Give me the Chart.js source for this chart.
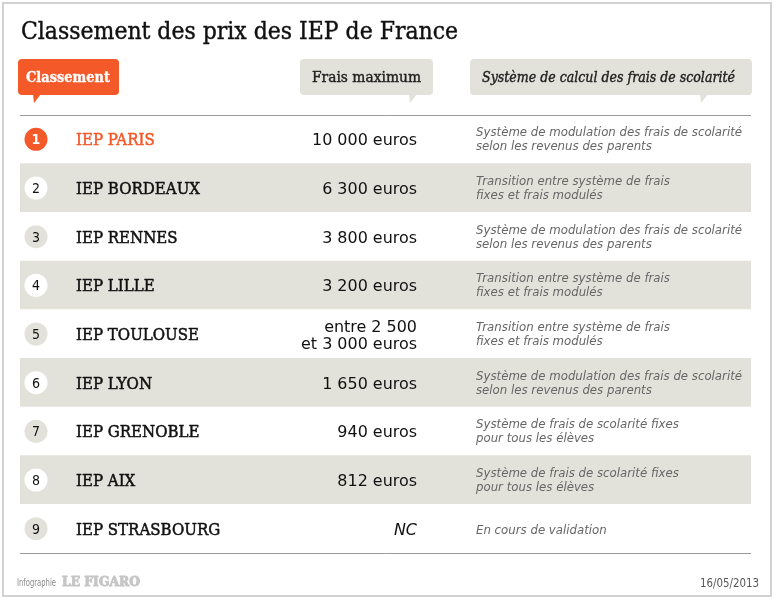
<!DOCTYPE html>
<html><head><meta charset="utf-8">
<script src="https://cdn.jsdelivr.net/npm/chart.js@4"></script>
<style>html,body{margin:0;padding:0;background:#fff}#wrap{width:777px;height:600px}</style>
</head><body><div id="wrap"><canvas id="c" width="777" height="600"></canvas></div>
<script>
const titre = 'Classement des prix des IEP de France';
const colonnes = ['Classement', 'Frais maximum', 'Système de calcul des frais de scolarité'];
const rangs = ['1', '2', '3', '4', '5', '6', '7', '8', '9'];
const etablissements = ['IEP PARIS', 'IEP BORDEAUX', 'IEP RENNES', 'IEP LILLE', 'IEP TOULOUSE', 'IEP LYON', 'IEP GRENOBLE', 'IEP AIX', 'IEP STRASBOURG'];
const fraisMaximum = [10000, 6300, 3800, 3200, 3000, 1650, 940, 812, null];
const fraisLabels = [['10 000 euros'], ['6 300 euros'], ['3 800 euros'], ['3 200 euros'], ['entre 2 500', 'et 3 000 euros'], ['1 650 euros'], ['940 euros'], ['812 euros'], ['NC']];
const systemes = [
  ['Système de modulation des frais de scolarité', 'selon les revenus des parents'],
  ['Transition entre système de frais', 'fixes et frais modulés'],
  ['Système de modulation des frais de scolarité', 'selon les revenus des parents'],
  ['Transition entre système de frais', 'fixes et frais modulés'],
  ['Transition entre système de frais', 'fixes et frais modulés'],
  ['Système de modulation des frais de scolarité', 'selon les revenus des parents'],
  ['Système de frais de scolarité fixes', 'pour tous les élèves'],
  ['Système de frais de scolarité fixes', 'pour tous les élèves'],
  ['En cours de validation']
];
const source = 'Infographie';
const marque = 'LE FIGARO';
const dateTexte = '16/05/2013';

const ORANGE = '#F4592A', GRIS = '#E3E2DA';
const SLAB = '"DejaVu Serif Condensed", "DejaVu Serif", serif';

function fitScale(ctx, s, font, target) { ctx.font = font; return target / ctx.measureText(s).width; }
function txt(ctx, s, x, y, font, color, align, sx, stroke) {
  ctx.save(); ctx.font = font; ctx.fillStyle = color; ctx.textAlign = align || 'left';
  ctx.textBaseline = 'alphabetic'; ctx.translate(x, y); ctx.scale(sx || 1, 1); ctx.fillText(s, 0, 0);
  if (stroke) { ctx.strokeStyle = color; ctx.lineWidth = stroke; ctx.lineJoin = 'round'; ctx.strokeText(s, 0, 0); }
  ctx.restore();
}
function bubble(ctx, x, y, w, h, tail, color) {
  ctx.save(); ctx.fillStyle = color; ctx.beginPath();
  ctx.roundRect(x, y, w, h, 4); ctx.fill();
  ctx.beginPath(); ctx.moveTo(tail[0], y + h - 1); ctx.lineTo(tail[1], y + h - 1); ctx.lineTo(tail[2], y + h + 8); ctx.closePath(); ctx.fill();
  ctx.restore();
}

const tableau = {
  id: 'tableau',
  beforeDraw(chart) {
    const ctx = chart.ctx;
    ctx.save(); ctx.fillStyle = '#fff'; ctx.fillRect(0, 0, chart.width, chart.height);
    ctx.strokeStyle = '#d2d2d2'; ctx.lineWidth = 2; ctx.strokeRect(3, 3, 768, 593); ctx.restore();
  },
  afterDatasetsDraw(chart) {
    const ctx = chart.ctx, ys = chart.scales.y, ca = chart.chartArea;
    // title
    const fT = '24px ' + SLAB;
    txt(ctx, titre, 21, 39, fT, '#111', 'left', fitScale(ctx, titre, fT, 437), 0.4);
    // header bubbles
    bubble(ctx, 18, 59, 101, 36, [33, 41, 34], ORANGE);
    bubble(ctx, 300, 59, 133, 36, [409, 417, 410], GRIS);
    bubble(ctx, 470, 59, 282, 36, [700, 708, 701], GRIS);
    const fH0 = 'bold 15px ' + SLAB;
    txt(ctx, colonnes[0], 26, 82, fH0, '#fff', 'left', fitScale(ctx, colonnes[0], fH0, 84), 0.3);
    const fH1 = '15px ' + SLAB;
    txt(ctx, colonnes[1], 312, 82, fH1, '#222', 'left', fitScale(ctx, colonnes[1], fH1, 109), 0.4);
    const fH2 = 'italic 15px ' + SLAB;
    txt(ctx, colonnes[2], 482, 82, fH2, '#222', 'left', fitScale(ctx, colonnes[2], fH2, 253), 0.4);
    // lines
    ctx.save(); ctx.strokeStyle = '#9a9a9a'; ctx.lineWidth = 1;
    ctx.beginPath(); ctx.moveTo(ca.left, Math.round(ca.top) + 0.5); ctx.lineTo(ca.right, Math.round(ca.top) + 0.5);
    ctx.moveTo(ca.left, Math.round(ca.bottom) + 0.5); ctx.lineTo(ca.right, Math.round(ca.bottom) + 0.5); ctx.stroke(); ctx.restore();
    // rows
    const fN = '17px ' + SLAB, sN = fitScale(ctx, 'IEP BORDEAUX', fN, 124);
    const fP = '16px "DejaVu Sans"', sP = fitScale(ctx, '10 000 euros', fP, 105);
    const fPI = 'italic 16px "DejaVu Sans"';
    const fD = 'italic 13px "DejaVu Sans"', sD = fitScale(ctx, 'Système de modulation des frais de scolarité', fD, 266);
    const fR = '14px "DejaVu Sans"', fRB = 'bold 14px "DejaVu Sans"';
    etablissements.forEach((nom, i) => {
      const cy = ys.getPixelForValue(i);
      const first = i === 0;
      ctx.save(); ctx.beginPath(); ctx.arc(36, cy, 11.5, 0, Math.PI * 2);
      ctx.fillStyle = first ? ORANGE : (i % 2 === 1 ? '#fff' : GRIS); ctx.fill(); ctx.restore();
      txt(ctx, rangs[i], 36, cy + 5, first ? fRB : fR, first ? '#fff' : '#111', 'center', 0.9);
      txt(ctx, nom, 76, cy + 6, fN, first ? ORANGE : '#111', 'left', sN, 0.5);
      const pl = fraisLabels[i];
      if (pl.length === 1) {
        const isNC = fraisMaximum[i] === null;
        txt(ctx, pl[0], 417, cy + 6, isNC ? fPI : fP, '#111', 'right', sP);
      } else {
        txt(ctx, pl[0], 417, cy - 2, fP, '#111', 'right', sP);
        txt(ctx, pl[1], 417, cy + 15, fP, '#111', 'right', sP);
      }
      const d = systemes[i];
      if (d.length === 1) {
        txt(ctx, d[0], 476, cy + 5, fD, '#666', 'left', sD);
      } else {
        txt(ctx, d[0], 476, cy - 3, fD, '#666', 'left', sD);
        txt(ctx, d[1], 476, cy + 11, fD, '#666', 'left', sD);
      }
    });
    // footer
    const fS = '10px "DejaVu Sans"';
    txt(ctx, source, 17, 586, fS, '#8a8a8a', 'left', fitScale(ctx, source, fS, 39));
    const fM = 'bold 12px ' + SLAB;
    txt(ctx, marque, 62, 586, fM, '#c6c6c6', 'left', fitScale(ctx, marque, fM, 78), 0.8);
    const fDt = '12px "DejaVu Sans"';
    txt(ctx, dateTexte, 759, 587, fDt, '#555', 'right', fitScale(ctx, dateTexte, fDt, 59));
  }
};

new Chart(document.getElementById('c'), {
  type: 'bar',
  data: {
    labels: etablissements,
    datasets: [{
      data: etablissements.map(() => 1),
      backgroundColor: ctx => (ctx.dataIndex % 2 === 1 ? GRIS : '#ffffff'),
      borderWidth: 0,
      categoryPercentage: 1,
      barPercentage: 1
    }]
  },
  options: {
    indexAxis: 'y',
    responsive: false,
    animation: false,
    events: [],
    layout: { padding: { left: 20, right: 26, top: 115, bottom: 47 } },
    scales: {
      x: { type: 'linear', min: 0, max: 1, display: false },
      y: { type: 'category', display: false, offset: true, grid: { display: false } }
    },
    plugins: { legend: { display: false }, tooltip: { enabled: false }, title: { display: false } }
  },
  plugins: [tableau]
});
</script>
</body></html>
